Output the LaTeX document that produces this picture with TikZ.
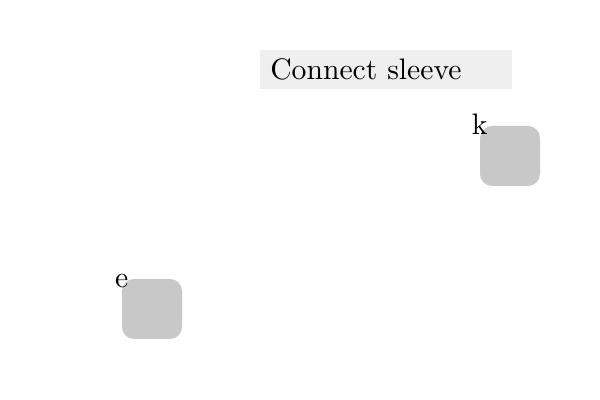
\documentclass[tikz,border=0pt]{standalone}
\usetikzlibrary{positioning}

\definecolor{titlegray}{HTML}{EFEFEF}
\definecolor{partgray}{HTML}{C8C8C8}
\newcommand{\bigtext}[1]{\scalebox{2.11}{#1}}
\tikzset{
	part/.style={fill=partgray, rounded corners=0.3cm, minimum size=1.5cm, inner sep=0pt},
	partlabel/.style={anchor=base, yshift=-0.225cm, inner sep=0pt},
}

\begin{document}
\begin{tikzpicture}
			\useasboundingbox (0,0) rectangle (15,10);
			\node (title) [fill=titlegray, anchor=north west, text width=5.8cm, inner xsep=0.25cm, minimum height=0.975cm, align=left] at (6.5,8.75) {\bigtext{Connect sleeve}};
			\node (k) [part, label={[partlabel]north west:\bigtext{k}}] at (12.75,6.1) {};
			\node (e) [part, label={[partlabel]north west:\bigtext{e}}] at (3.8,2.275) {};
		\end{tikzpicture}
\end{document}
